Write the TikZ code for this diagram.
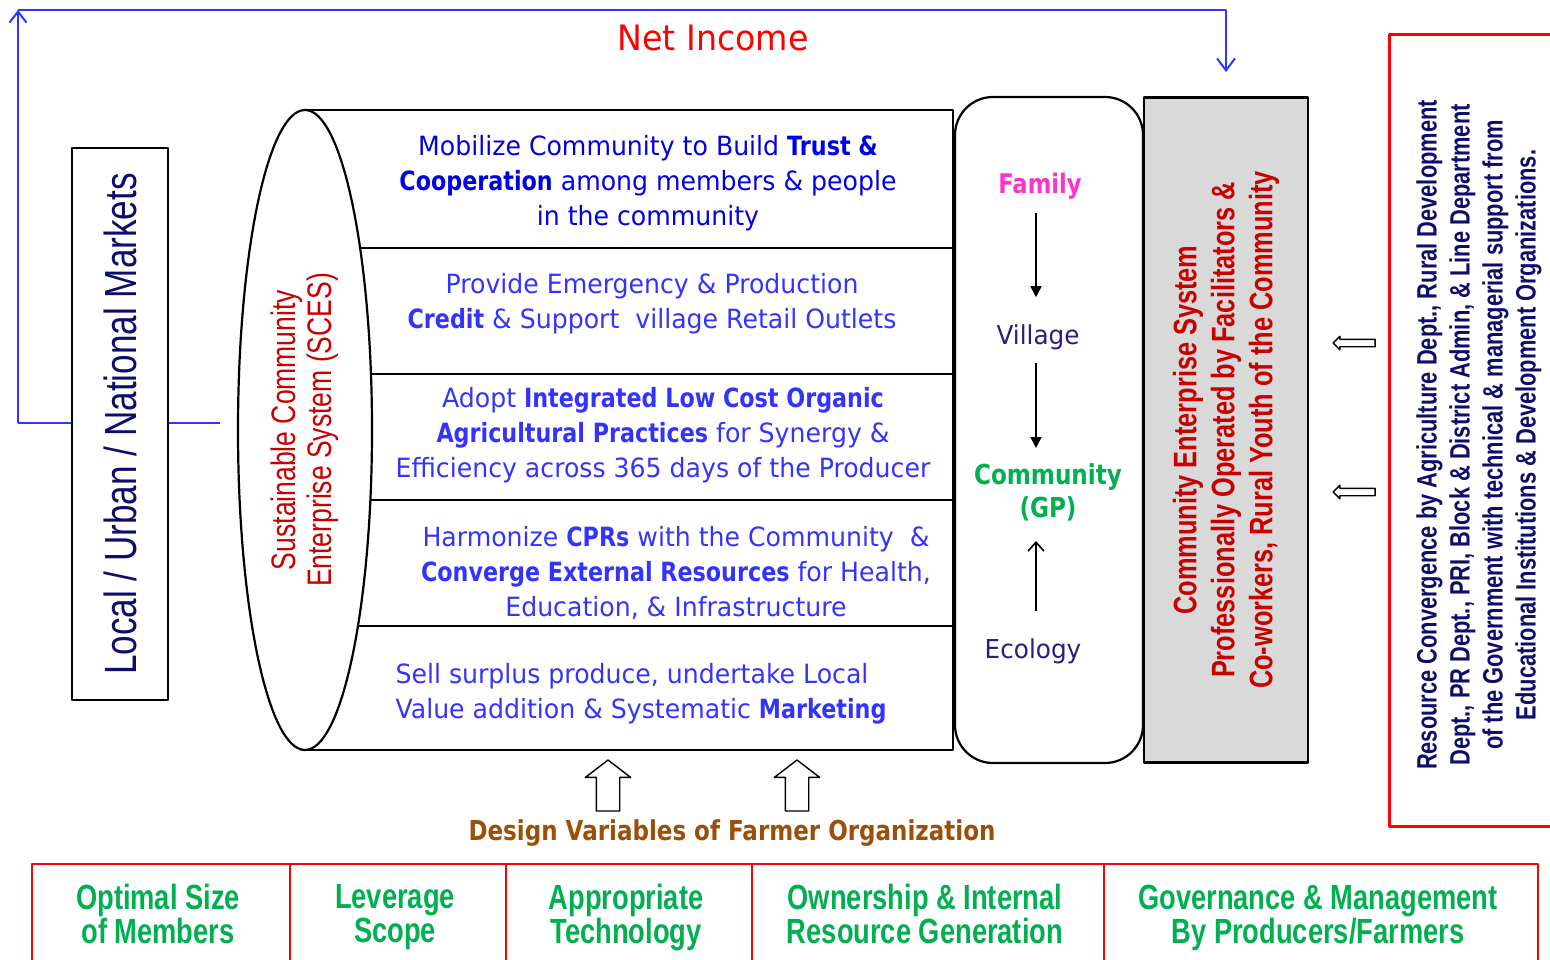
\documentclass[tikz,border=0pt]{standalone}
\usepackage{fontspec}
\setmainfont{DejaVu Sans}[FakeStretch=0.95, BoldFeatures={FakeStretch=0.84}]
\newfontfamily\narrowfont{Liberation Sans}[FakeStretch=0.78]
\usetikzlibrary{calc,shapes,shapes.arrows,arrows.meta,positioning}
\definecolor{goalblue}{RGB}{0,0,230}
\definecolor{softblue}{RGB}{51,51,255}
\definecolor{marketnavy}{RGB}{13,13,107}
\definecolor{scesred}{RGB}{200,0,0}
\definecolor{familypink}{RGB}{255,51,204}
\definecolor{tierindigo}{RGB}{40,30,125}
\definecolor{gpgreen}{RGB}{0,176,80}
\definecolor{designbrown}{RGB}{155,80,10}
\definecolor{cesgrey}{RGB}{217,217,217}

\begin{document}
\begin{tikzpicture}[x=1pt,y=-1pt,line join=round]
\tikzstyle{rim}=[draw=black, line width=2.2pt]
\tikzstyle{income}=[draw={rgb,255:red,51;green,51;blue,255}, line width=2pt]
\tikzstyle{goal}=[align=center, text=softblue, inner sep=0pt, font=\fontsize{26.5}{35}\selectfont]
\tikzstyle{tier}=[align=center, inner sep=0pt, font=\fontsize{26}{33}\selectfont]
\tikzstyle{tierarrow}=[line width=1.6pt, -{Triangle[length=11pt,width=11pt]}]
\tikzstyle{hollow}=[single arrow, draw=black, fill=white, line width=1.4pt]
\tikzstyle{varbox}=[draw=red, line width=2pt, minimum height=102pt, inner sep=0pt]
\tikzstyle{vartext}=[align=center, text=gpgreen, inner sep=0pt, execute at begin node=\strut, execute at end node=\strut,
                     font=\narrowfont\bfseries\fontsize{35}{34}\selectfont]
\useasboundingbox (0,0) rectangle (1550,960);

% net income loop
\coordinate (mktline) at (220,423);
\coordinate (loopbot) at (18,423);
\coordinate (looptop) at (18,10);
\coordinate (incomein) at (1226,72);
\draw[income] (mktline) -- (loopbot);
\draw[income,-{Straight Barb[length=11pt,width=17pt]}] (loopbot) -- (looptop);
\draw[income,-{Straight Barb[length=12pt,width=18pt]}] (looptop) -| (incomein);
\node[text=red, font=\fontsize{35}{40}\selectfont] (netinc) at (713,38) {Net Income};

\node[rim, fill=white, rotate=90, minimum width=552pt, minimum height=96pt, text=marketnavy,
      font=\narrowfont\fontsize{45}{45}\selectfont] (market) at (120,424) {Local / Urban / National Markets};

% the SCES cylinder
\foreach \y in {248,374,500,626}
    \draw[rim] (305,\y) -- (953,\y);
\draw[rim] (305,110) -- (953,110) -- (953,750) -- (305,750);
\node[rim, ellipse, fill=white, rotate=90, minimum width=640pt, minimum height=134pt, inner sep=0pt,
      align=center, text=scesred, font=\narrowfont\fontsize{34}{36}\selectfont] (sces) at (305,430)
      {Sustainable Community\\Enterprise System (SCES)};

\node[goal, text=goalblue] (trust) at (648,183) {Mobilize Community to Build \textbf{Trust \&}\\\textbf{Cooperation} among members \& people\\in the community};
\node[goal] (credit) at (652,304) {Provide Emergency \& Production\\\textbf{Credit} \& Support\ \ village Retail Outlets};
\node[goal] (organic) at (663,435) {Adopt \textbf{Integrated Low Cost Organic}\\\textbf{Agricultural Practices} for Synergy \&\\Efficiency across 365 days of the Producer};
\node[goal] (cprs) at (676,573) {Harmonize \textbf{CPRs} with the Community\ \ \&\\\textbf{Converge External Resources} for Health,\\Education, \& Infrastructure};
\node[goal, align=left] (sell) at (641,694) {Sell surplus produce, undertake Local\\Value addition \& Systematic \textbf{Marketing}};

% family to community
\node[rim, rounded corners=38pt, minimum width=188pt, minimum height=666pt] (tiers) at (1049,430) {};
\coordinate (spine) at (1036,0);
\node[tier, text=familypink, font=\bfseries\fontsize{27}{33}\selectfont] (family) at (1040,186) {Family};
\node[tier, text=tierindigo] (village) at (1038,337) {Village};
\node[tier, text=gpgreen, font=\bfseries\fontsize{27.5}{33}\selectfont] (community) at (1048,492) {Community\\(GP)};
\node[tier, text=tierindigo] (ecology) at (1033,651) {Ecology};
\draw[tierarrow, shorten <=14pt, shorten >=27pt] (family.south -| spine) -- (village.north -| spine);
\draw[tierarrow, shorten <=13pt, shorten >=15pt] (village.south -| spine) -- (community.north -| spine);
\draw[line width=1.6pt, -{Straight Barb[length=9pt,width=16pt]}, shorten <=27pt, shorten >=20pt] (ecology.north -| spine) -- (community.south -| spine);

\node[rim, fill=cesgrey, rotate=90, minimum width=665pt, minimum height=164pt, align=center, text=scesred,
      font=\narrowfont\bfseries\fontsize{32.5}{38}\selectfont] (ces) at (1226,430)
      {Community Enterprise System\\Professionally Operated by Facilitators \&\\Co-workers, Rural Youth of the Community};

% resource convergence
\node[draw=red, line width=3pt, minimum width=175pt, minimum height=791pt] (resbox) at (1476.5,430.5) {};
\node[rotate=90, align=center, text=marketnavy, font=\narrowfont\bfseries\fontsize{28}{33}\selectfont] (support) at (1479,435)
      {Resource Convergence by Agriculture Dept., Rural Development\\Dept., PR Dept., PRI, Block \& District Admin, \& Line Department\\of the Government with technical \& managerial support from\\Educational Institutions \& Development Organizations.};
\foreach \y [count=\i] in {343,492}
    \node[hollow, shape border rotate=180, minimum height=42pt, inner sep=3pt, single arrow head extend=3pt] (push\i) at (1356,\y) {};

% design variables
\foreach \x [count=\i] in {608,797}
    \node[hollow, shape border rotate=90, minimum height=51pt, inner sep=11pt, single arrow head extend=11pt, single arrow tip angle=105] (lift\i) at (\x,790) {};
\node[text=designbrown, font=\bfseries\fontsize{27.4}{30}\selectfont] (design) at (732,833) {Design Variables of Farmer Organization};
\foreach \l/\r/\txt [count=\i] in {32/290/{Optimal Size\\of Members}, 290/506/{Leverage\\Scope}, 506/752/{Appropriate\\Technology},
        752/1104/{Ownership \& Internal\\Resource Generation}, 1104/1538/{Governance \& Management\\By Producers/Farmers}}
       {
        \node[varbox, minimum width={(\r-\l)*1pt}] (var\i) at ({(\l+\r)/2},915) {};
        \node[vartext, xshift=-3pt] (vlabel\i) at ($(var\i.center)+(0,4)$) {\txt};
       }
\end{tikzpicture}
\end{document}
